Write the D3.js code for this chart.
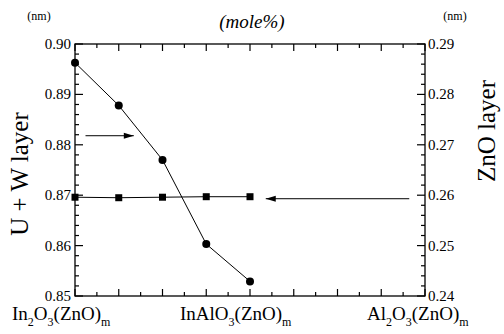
<!DOCTYPE html>
<html>
<head>
<meta charset="utf-8">
<script src="https://cdn.jsdelivr.net/npm/d3@7"></script>
<style>
  body { margin: 0; background: #fff; }
  text, tspan { font-family: "Liberation Serif" !important; }
</style>
</head>
<body>
<svg id="chart" width="504" height="334"></svg>
<script>
// mole% positions of the measured compositions
var molePct = [0, 12.5, 25, 37.5, 50];
// U + W layer thickness (nm), left axis, circles
var uwLayer = [0.8963, 0.8878, 0.8770, 0.8603, 0.8529];
// ZnO layer thickness (nm), right axis, squares
var znoLayer = [0.2596, 0.2595, 0.2596, 0.2597, 0.2597];
var leftTicks = [0.85, 0.86, 0.87, 0.88, 0.89, 0.90];
var rightTicks = [0.24, 0.25, 0.26, 0.27, 0.28, 0.29];
var endLabels = [
  {x: 0, base: ["In", "2", "O", "3", "(ZnO)", "m"], dx: -63},
  {x: 50, base: ["InAlO", "3", "(ZnO)", "m"], dx: -70},
  {x: 100, base: ["Al", "2", "O", "3", "(ZnO)", "m"], dx: -58}
];

var svg = d3.select("#chart");
var mLeft = 75, mRight = 425, mTop = 44, mBottom = 296;

var x = d3.scaleLinear().domain([0, 100]).range([mLeft, mRight]);
var yL = d3.scaleLinear().domain([0.85, 0.90]).range([mBottom, mTop]);
var yR = d3.scaleLinear().domain([0.24, 0.29]).range([mBottom, mTop]);

function label(px, py, size, txt, anchor) {
  return svg.append("text").attr("x", px).attr("y", py)
    .attr("text-anchor", anchor || "middle").attr("font-size", size)
    .style("font-family", "'Liberation Serif'")
    .text(txt);
}

// frame
svg.append("rect")
  .attr("x", mLeft).attr("y", mTop)
  .attr("width", mRight - mLeft).attr("height", mBottom - mTop)
  .attr("fill", "none").attr("stroke", "#000").attr("stroke-width", 1.3);

// ticks, all pointing inward
var g = svg.append("g").attr("stroke", "#000").attr("stroke-width", 1.2);
d3.range(0, 100.01, 6.25).forEach(function (v, i) {
  var len = i % 2 == 0 ? 7 : 4;
  g.append("line").attr("x1", x(v)).attr("x2", x(v)).attr("y1", mBottom).attr("y2", mBottom - len);
  g.append("line").attr("x1", x(v)).attr("x2", x(v)).attr("y1", mTop).attr("y2", mTop + len);
});
d3.range(0, 25.5).forEach(function (i) {
  var len = i % 5 == 0 ? 8 : 4;
  var vL = 0.85 + i * 0.002;
  var vR = 0.24 + i * 0.002;
  g.append("line").attr("x1", mLeft).attr("x2", mLeft + len).attr("y1", yL(vL)).attr("y2", yL(vL));
  g.append("line").attr("x1", mRight).attr("x2", mRight - len).attr("y1", yR(vR)).attr("y2", yR(vR));
});

// tick labels
leftTicks.forEach(function (d) { label(mLeft - 4, yL(d) + 5, 15, d3.format(".2f")(d), "end"); });
rightTicks.forEach(function (d) { label(mRight + 3, yR(d) + 5, 15, d3.format(".2f")(d), "start"); });

// units and title
label(39, 20, 12, "(nm)");
label(455, 20, 12, "(nm)");
label(252, 28, 19, "(mole%)").attr("font-style", "italic");

// axis titles
label(0, 0, 25, "U + W layer").attr("transform", "translate(28,174) rotate(-90)");
label(0, 0, 25, "ZnO layer").attr("transform", "translate(495,131) rotate(-90)");

// composition labels with subscripts
endLabels.forEach(function (lab) {
  var t = label(x(lab.x) + lab.dx, 320, 19, null, "start");
  lab.base.forEach(function (s, i) {
    var sub = (s.length == 1 && /\d/.test(s)) || s == "m";
    t.append("tspan")
      .attr("font-size", sub ? 12 : 19)
      .attr("dy", sub ? 6 : (i > 0 ? -6 : 0))
      .text(s);
  });
});

// series lines
var lineL = d3.line().x(function (d, i) { return x(molePct[i]); }).y(function (d) { return yL(d); });
var lineR = d3.line().x(function (d, i) { return x(molePct[i]); }).y(function (d) { return yR(d); });
svg.append("path").attr("d", lineL(uwLayer)).attr("fill", "none").attr("stroke", "#000").attr("stroke-width", 1);
svg.append("path").attr("d", lineR(znoLayer)).attr("fill", "none").attr("stroke", "#000").attr("stroke-width", 1);

svg.selectAll(".c").data(uwLayer).enter().append("circle")
  .attr("cx", function (d, i) { return x(molePct[i]); })
  .attr("cy", function (d) { return yL(d); })
  .attr("r", 4).attr("fill", "#000");
svg.selectAll(".s").data(znoLayer).enter().append("rect")
  .attr("x", function (d, i) { return x(molePct[i]) - 3.5; })
  .attr("y", function (d) { return yR(d) - 3.5; })
  .attr("width", 7).attr("height", 7).attr("fill", "#000");

// arrows telling which axis each curve belongs to
function arrow(x1, x2, y) {
  var dir = x2 > x1 ? 1 : -1;
  svg.append("line").attr("x1", x1).attr("x2", x2).attr("y1", y).attr("y2", y)
    .attr("stroke", "#000").attr("stroke-width", 1);
  svg.append("path")
    .attr("d", "M" + x2 + "," + y + " l" + (-dir * 10) + ",-3 l0,6 Z")
    .attr("fill", "#000");
}
arrow(x(3), x(16.8), yL(0.8818));
arrow(x(95.5), x(54.5), yR(0.2593));
</script>
</body>
</html>
